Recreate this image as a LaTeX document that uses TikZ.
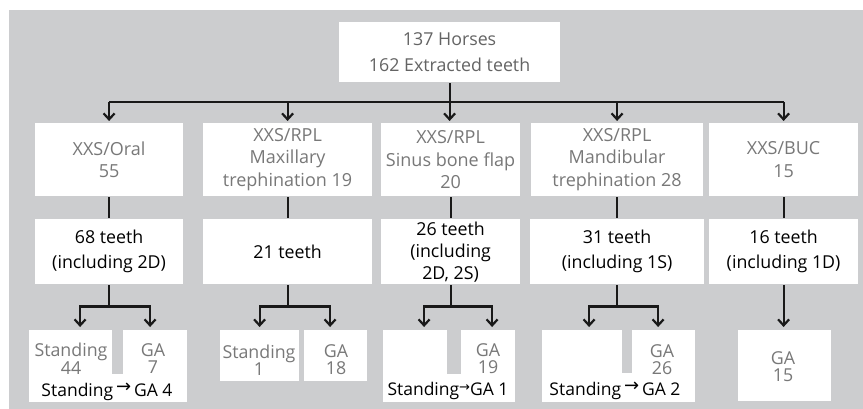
\documentclass[tikz,border=0pt]{standalone}
\usepackage{fontspec}
\setmainfont{Open Sans}
\newfontfamily\symfont{DejaVu Sans}
\usetikzlibrary{positioning,arrows.meta}

\definecolor{panelbg}{RGB}{204,205,207}
\definecolor{txtgray}{RGB}{120,120,120}
\definecolor{topgray}{RGB}{100,100,100}
\definecolor{linecol}{RGB}{25,25,25}

\newcommand{\tarr}[1][18]{\raisebox{.2em}{\symfont\fontsize{#1}{#1}\selectfont →}}

\tikzset{
  box/.style={fill=white, inner sep=0pt, anchor=north west},
  lvla/.style={box, minimum height=73pt, text=txtgray, align=center,
               font=\fontsize{18}{22.5}\selectfont},
  lvlb/.style={fill=white, inner sep=0pt, minimum height=65pt, align=center,
               font=\fontsize{17.8}{25}\selectfont},
  leaf/.style={inner sep=0pt, text=txtgray, align=center,
               font=\fontsize{17.8}{17}\selectfont},
  route/.style={inner sep=0pt, anchor=base, font=\fontsize{17.5}{17}\selectfont},
}

\begin{document}
\begin{tikzpicture}[x=1pt, y=-1pt, >={Straight Barb[length=6pt,width=11pt]},
                    line width=2.2pt, draw=linecol]
  \useasboundingbox (0,0) rectangle (863,409);
  \fill[panelbg] (9,10) rectangle (863,409);

  % top
  \node (top) [box, minimum width=221pt, minimum height=60pt, align=center,
               text=topgray, font=\fontsize{17.8}{26.5}\selectfont] at (338,21)
    {137 Horses\\162 Extracted teeth};

  % procedures
  \node (l1a) [lvla, minimum width=148pt] at (34,122)  {XXS/Oral\\55};
  \node (l1b) [lvla, minimum width=169pt] at (202,122) {XXS/RPL\\Maxillary\\trephination 19};
  \node (l1c) [lvla, minimum width=139pt] at (380,122) {XXS/RPL\\Sinus bone flap\\20};
  \node (l1d) [lvla, minimum width=172pt] at (530,122) {XXS/RPL\\Mandibular\\trephination 28};
  \node (l1e) [lvla, minimum width=149pt] at (708,122) {XXS/BUC\\15};

  % teeth
  \node (l2a) [lvlb, minimum width=148pt, below=21pt of l1a] {68 teeth\\(including 2D)};
  \node (l2b) [lvlb, minimum width=169pt, below=21pt of l1b] {21 teeth};
  \node (l2c) [lvlb, minimum width=139pt, below=21pt of l1c,
               font=\fontsize{17.8}{22}\selectfont] {26 teeth\\(including\\2D, 2S)};
  \node (l2d) [lvlb, minimum width=174pt, below=21pt of l1d] {31 teeth\\(including 1S)};
  \node (l2e) [lvlb, minimum width=149pt, below=21pt of l1e] {16 teeth\\(including 1D)};

  % anaesthesia boxes
  \node (sa) [box, minimum width=83pt, minimum height=45pt] at (28,329) {};
  \node (ga) [box, minimum width=64pt, minimum height=45pt] at (122,329) {};
  \node (ra) [box, minimum width=158pt, minimum height=28pt] at (28,373) {};
  \node (sb) [box, minimum width=79pt, minimum height=51pt] at (219,329) {};
  \node (gb) [box, minimum width=63pt, minimum height=51pt] at (303,329) {};
  \node (sc) [box, minimum width=64pt, minimum height=45pt] at (382,329) {};
  \node (gc) [box, minimum width=54pt, minimum height=45pt] at (460,329) {};
  \node (rc) [box, minimum width=132pt, minimum height=28pt] at (382,373) {};
  \node (sd) [box, minimum width=80pt, minimum height=44pt] at (541,329) {};
  \node (gd) [box, minimum width=63pt, minimum height=44pt] at (631,329) {};
  \node (rd) [box, minimum width=153pt, minimum height=29pt] at (541,372) {};
  \node (ge) [box, minimum width=93pt, minimum height=71pt] at (737,329) {};

  \node (tsa) [leaf] at (71,359)  {Standing\\44};
  \node (tga) [leaf] at (153,359) {GA\\7};
  \node (tra) [route] at (107,396) {Standing\,\tarr\,GA 4};
  \node (tsb) [leaf] at (259,360) {Standing\\1};
  \node (tgb) [leaf] at (336,360) {GA\\18};
  \node (tgc) [leaf] at (488,359) {GA\\19};
  \node (trc) [route] at (448,395) {Standing\tarr[13]GA 1};
  \node (tgd) [leaf] at (662,360) {GA\\26};
  \node (trd) [route] at (615,395) {Standing\,\tarr\,GA 2};
  \node (tge) [leaf] at (783,367) {GA\\15};

  % connectors
  \coordinate (bus) at (449,102);
  \draw (bus -| l1a) -- (bus -| l1e);
  \draw[->, shorten >=1pt] (top) -- (top |- l1c.north);
  \foreach \n in {l1a,l1b,l1d,l1e}
    \draw[->, shorten >=1pt] (bus -| \n) -- (\n);
  \foreach \n in {a,b,c,d,e}
    \draw (l1\n) -- (l2\n);

  \draw (l2a) -- ([yshift=-21pt]l2a.south) coordinate (ja);
  \draw[->, shorten >=2pt] (ja) -| ([xshift=9.5pt]sa.north);
  \draw[->, shorten >=2pt] (ja) -| ([xshift=-5pt]ga.north);
  \draw (l2b) -- ([yshift=-21pt]l2b.south) coordinate (jb);
  \draw[->, shorten >=2pt] (jb) -| (sb);
  \draw[->, shorten >=2pt] (jb) -| ([xshift=-5.5pt]gb.north);
  \draw (l2c) -- ([yshift=-21pt]l2c.south) coordinate (jc);
  \draw[->, shorten >=2pt] (jc) -| ([xshift=9pt]sc.north);
  \draw[->, shorten >=2pt] (jc) -| ([xshift=4pt]gc.north);
  \draw (l2d) -- ([yshift=-21pt]l2d.south) coordinate (jd);
  \draw[->, shorten >=2pt] (jd) -| ([xshift=7pt]sd.north);
  \draw[->, shorten >=2pt] (jd) -| ([xshift=-5.5pt]gd.north);
  \draw[->, shorten >=2pt] (l2e) -- (l2e |- ge.north);
\end{tikzpicture}
\end{document}
